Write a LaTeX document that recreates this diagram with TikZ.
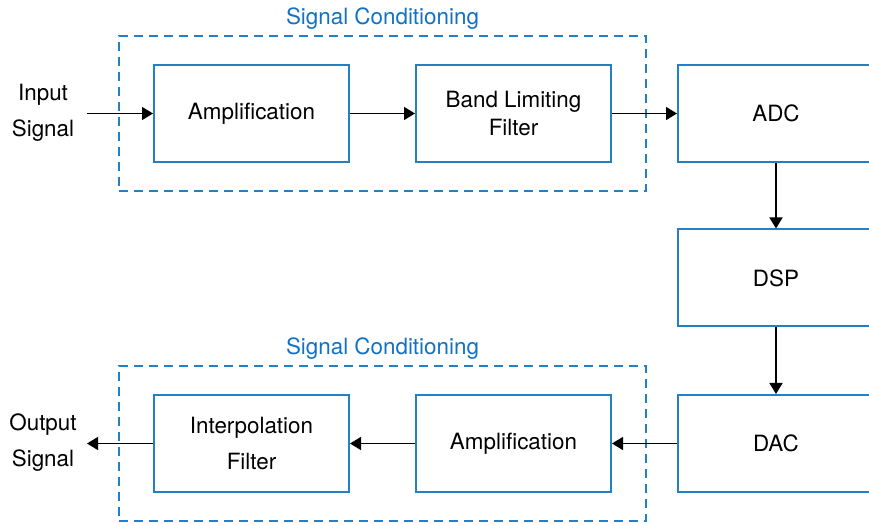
\documentclass[tikz,border=0pt]{standalone}
\usepackage{fontspec}
\setmainfont{TeX Gyre Heros}
\usetikzlibrary{arrows.meta,positioning,fit}
\definecolor{boxblue}{RGB}{36,128,196}
\definecolor{textblue}{RGB}{16,114,196}

\tikzset{
block/.style={draw=boxblue,line width=1pt,minimum width=97.5pt,minimum height=48.5pt,align=center,inner sep=0pt},
wideblock/.style={block,minimum width=98pt},
group/.style={draw=boxblue,line width=0.75pt,dash pattern=on 4.5pt off 3pt,inner xsep=17pt,inner ysep=14pt},
grouptitle/.style={text=textblue,inner sep=2pt},
flow/.style={line width=0.7pt,-{Triangle[length=5.5pt,width=6.5pt]}}
}

\begin{document}
\begin{tikzpicture}[x=0.5pt,y=-0.5pt,font=\fontsize{11.2}{14}\selectfont]
\path[use as bounding box,clip] (0,0) rectangle (869,524);

% top row
\node[block] (amp1) at (251.5,113.5) {Amplification};
\node[block] (blf) at (513.5,113.5) {Band Limiting\\Filter};
\node[wideblock] (adc) at (776,113.5) {ADC};
\node[group,fit=(amp1)(blf)] (cond1) {};
\node[grouptitle,above=0.5pt of cond1] {Signal Conditioning};

% middle
\node[wideblock] (dsp) at (776,278) {DSP};

% bottom row
\node[wideblock] (dac) at (776,443.5) {DAC};
\node[block] (amp2) at (513.5,443.5) {Amplification};
\node[block] (interp) at (251.5,443.5) {Interpolation\\[4pt]Filter};
\node[group,fit=(interp)(amp2)] (cond2) {};
\node[grouptitle,above=0.5pt of cond2] {Signal Conditioning};

% signals
\node[align=center] (insig) at (43,113) {Input\\[4pt]Signal};
\node[align=center] (outsig) at (43,443) {Output\\[4pt]Signal};
\coordinate (inend) at (87,113.5);
\coordinate (outend) at (87,443.5);

\draw[flow] (inend) -- (amp1);
\draw[flow] (amp1) -- (blf);
\draw[flow] (blf) -- (adc);
\draw[flow] (adc) -- (dsp);
\draw[flow] (dsp) -- (dac);
\draw[flow] (dac) -- (amp2);
\draw[flow] (amp2) -- (interp);
\draw[flow] (interp) -- (outend);
\end{tikzpicture}
\end{document}
